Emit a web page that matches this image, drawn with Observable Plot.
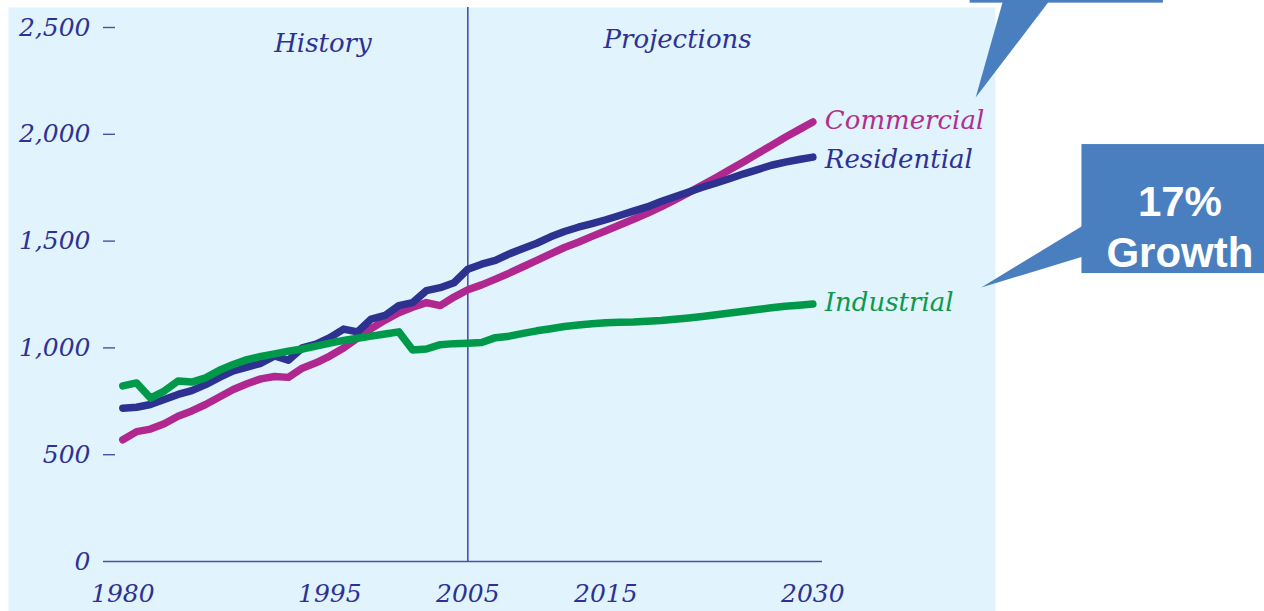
<!DOCTYPE html>
<html>
<head>
<meta charset="utf-8">
<script src="https://cdn.jsdelivr.net/npm/d3@7"></script>
<script src="https://cdn.jsdelivr.net/npm/@observablehq/plot@0.6"></script>
<style>
  html, body { margin: 0; padding: 0; background: #ffffff; }
  #chart svg { display: block; }
</style>
</head>
<body>
<div id="chart"></div>
<script>
// ---- data ----
const years = [1980,1981,1982,1983,1984,1985,1986,1987,1988,1989,1990,1991,1992,1993,1994,1995,1996,1997,1998,1999,2000,2001,2002,2003,2004,2005,2006,2007,2008,2009,2010,2011,2012,2013,2014,2015,2016,2017,2018,2019,2020,2021,2022,2023,2024,2025,2026,2027,2028,2029,2030];
const commercial = [570,608,620,645,680,705,735,770,805,832,855,866,862,905,930,962,1000,1045,1090,1130,1165,1190,1212,1198,1238,1272,1295,1322,1350,1380,1410,1440,1470,1495,1522,1548,1575,1602,1630,1660,1693,1727,1762,1798,1835,1872,1910,1948,1986,2022,2058];
const residential = [718,722,735,758,782,800,828,862,892,910,928,962,942,1000,1018,1048,1088,1075,1135,1152,1198,1212,1268,1282,1305,1368,1392,1410,1440,1465,1490,1520,1545,1565,1582,1600,1620,1640,1660,1685,1708,1730,1752,1772,1793,1815,1835,1855,1870,1882,1893];
const industrial = [822,836,765,798,845,840,860,895,922,945,960,972,985,995,1008,1022,1035,1045,1055,1065,1075,990,995,1015,1020,1022,1025,1048,1055,1068,1080,1090,1100,1107,1113,1118,1120,1121,1125,1128,1134,1140,1147,1155,1163,1172,1180,1188,1195,1200,1206];
const seriesNames = ["Commercial", "Residential", "Industrial"];
const yTicks = [0, 500, 1000, 1500, 2000, 2500];
const xTicks = [1980, 1995, 2005, 2015, 2030];
const dividerYear = [2005];
const periodLabels = [
  {year: 1994.5, value: 2425, text: "History"},
  {year: 2020.2, value: 2442, text: "Projections"}
];

// callout annotations (in data units)
const calloutBoxes = [
  {x1: 2041.4, x2: 2055.4, y1: 2614, y2: 2700},
  {x1: 2049.5, x2: 2063.5, y1: 1348, y2: 1952}
];
const calloutPointers = [
  {id: "a", x: 2041.8, y: 2172}, {id: "a", x: 2043.8, y: 2630}, {id: "a", x: 2047.2, y: 2630},
  {id: "b", x: 2042.2, y: 1283}, {id: "b", x: 2050.3, y: 1601}, {id: "b", x: 2050.3, y: 1442}
];
const calloutText = [
  {x: 2056.6, y: 1682, text: "17%"},
  {x: 2056.6, y: 1444, text: "Growth"}
];

// ---- build table ----
const valuesBySeries = {Commercial: commercial, Residential: residential, Industrial: industrial};
const rows = seriesNames.flatMap(s => years.map((yr, i) => ({series: s, year: yr, value: valuesBySeries[s][i]})));

const colors = ["#b0288f", "#2d3190", "#00994a"];
const labelColors = ["#b0308f", "#2e3192", "#0a9a4c"];
const navy = "#2e3192";
const ruleColor = "#4a4fa8";
const panel = "#e1f3fd";
const calloutBlue = "#4a7fbf";
const serif = "'DejaVu Serif', 'Liberation Serif', serif";
const labelDy = {Commercial: -1, Residential: 3, Industrial: -1};

const chart = Plot.plot({
  width: 1264,
  height: 611,
  marginLeft: 103,
  marginRight: 442,
  marginTop: 27,
  marginBottom: 50,
  style: {background: "transparent", overflow: "visible", fontFamily: serif},
  x: {domain: [1978.6, 2030.7]},
  y: {domain: [0, 2500]},
  color: {domain: seriesNames, range: colors},
  marks: [
    Plot.frame({fill: panel, stroke: null, insetLeft: -95, insetTop: -20, insetRight: -173, insetBottom: -50}),
    Plot.ruleX(dividerYear, {stroke: ruleColor, strokeWidth: 1.6, insetTop: -20}),
    Plot.ruleY([0], {stroke: ruleColor, strokeWidth: 1.6}),
    Plot.axisY({ticks: yTicks.filter(d => d > 0), tickSize: 12, dx: 12, tickFormat: () => "", stroke: ruleColor, strokeWidth: 1.4}),
    Plot.axisY({ticks: yTicks, tickSize: 0, tickPadding: 13, tickFormat: d3.format(","), fill: navy, fontSize: 25, fontStyle: "italic", fontFamily: serif}),
    Plot.axisX({ticks: xTicks, tickSize: 0, tickPadding: 23, tickFormat: d => String(d), fill: navy, fontSize: 25, fontStyle: "italic", fontFamily: serif}),
    Plot.line(rows, {x: "year", y: "value", z: "series", stroke: "series", strokeWidth: 7.5, strokeLinejoin: "round"}),
    ...seriesNames.map((s, i) => Plot.text(rows.filter(d => d.series === s), Plot.selectLast({
      x: "year", y: "value", text: "series", fill: labelColors[i], textAnchor: "start",
      dx: 12, dy: labelDy[s], fontSize: 26, fontStyle: "italic", fontFamily: serif
    }))),
    Plot.text(periodLabels, {x: "year", y: "value", text: "text", fill: navy, fontSize: 26, fontStyle: "italic", fontFamily: serif}),
    Plot.rect(calloutBoxes, {x1: "x1", x2: "x2", y1: "y1", y2: "y2", fill: calloutBlue}),
    Plot.line(calloutPointers, {x: "x", y: "y", z: "id", fill: calloutBlue, stroke: null}),
    Plot.text(calloutText, {x: "x", y: "y", text: "text", fill: "white", fontSize: 42, fontWeight: "bold", fontFamily: "'Liberation Sans', Arial, sans-serif"})
  ]
});
document.getElementById("chart").appendChild(chart);
</script>
</body>
</html>
